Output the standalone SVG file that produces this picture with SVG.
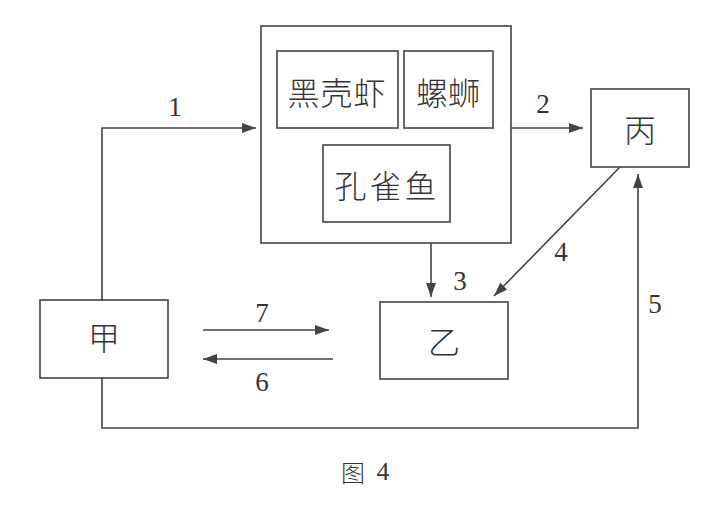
<svg xmlns="http://www.w3.org/2000/svg" width="714" height="512" viewBox="0 0 714 512">
<style>
.box{fill:none;stroke:#444;stroke-width:1.6}
.ln{fill:none;stroke:#444;stroke-width:1.6}
.cn{font-family:"Noto Sans CJK SC","Noto Sans CJK JP",sans-serif;font-size:32px;fill:#333;text-anchor:middle;dominant-baseline:central;font-weight:300}
.num{font-family:"Liberation Serif",serif;font-size:27px;fill:#333;text-anchor:middle;dominant-baseline:central}
</style>
<defs>
<marker id="ah" viewBox="0 0 10 10" refX="10" refY="5" markerWidth="14" markerHeight="14" markerUnits="userSpaceOnUse" orient="auto">
<path d="M0,1.5 L10,5 L0,8.5 Z" fill="#444"/>
</marker>
</defs>
<g id="outer"><rect class="box" x="261" y="26" width="250" height="217"/></g>
<g id="heikexia"><rect class="box" x="277" y="51" width="121" height="77"/><text class="cn" x="337" y="91" letter-spacing="1">黑壳虾</text></g>
<g id="luosi"><rect class="box" x="404" y="51" width="89" height="77"/><text class="cn" x="448" y="91">螺蛳</text></g>
<g id="kongqueyu"><rect class="box" x="323" y="145" width="127" height="77"/><text class="cn" x="387" y="184" letter-spacing="3">孔雀鱼</text></g>
<g id="bing"><rect class="box" x="591" y="89" width="98" height="78"/><text class="cn" x="640" y="128">丙</text></g>
<g id="jia"><rect class="box" x="40" y="300" width="128" height="78"/><text class="cn" x="104" y="336">甲</text></g>
<g id="yi"><rect class="box" x="380" y="302" width="128" height="77"/><text class="cn" x="444" y="340">乙</text></g>
<g id="connectors">
<polyline class="ln" points="102,300 102,128 256,128" marker-end="url(#ah)"/>
<line class="ln" x1="511" y1="128" x2="583" y2="128" marker-end="url(#ah)"/>
<line class="ln" x1="431" y1="243" x2="431" y2="297" marker-end="url(#ah)"/>
<line class="ln" x1="620" y1="167" x2="494" y2="296" marker-end="url(#ah)"/>
<polyline class="ln" points="102,378 102,428 638,428 638,174" marker-end="url(#ah)"/>
<line class="ln" x1="203" y1="330" x2="329" y2="330" marker-end="url(#ah)"/>
<line class="ln" x1="333" y1="359" x2="203" y2="359" marker-end="url(#ah)"/>
<text class="num" x="175" y="107">1</text>
<text class="num" x="543" y="104">2</text>
<text class="num" x="460" y="281">3</text>
<text class="num" x="561" y="252">4</text>
<text class="num" x="655" y="304">5</text>
<text class="num" x="262" y="382">6</text>
<text class="num" x="262" y="313">7</text>
</g>
<text class="cn" x="353" y="471" style="font-size:24px">图</text>
<text class="num" x="383" y="471" style="font-size:25px">4</text>
</svg>
